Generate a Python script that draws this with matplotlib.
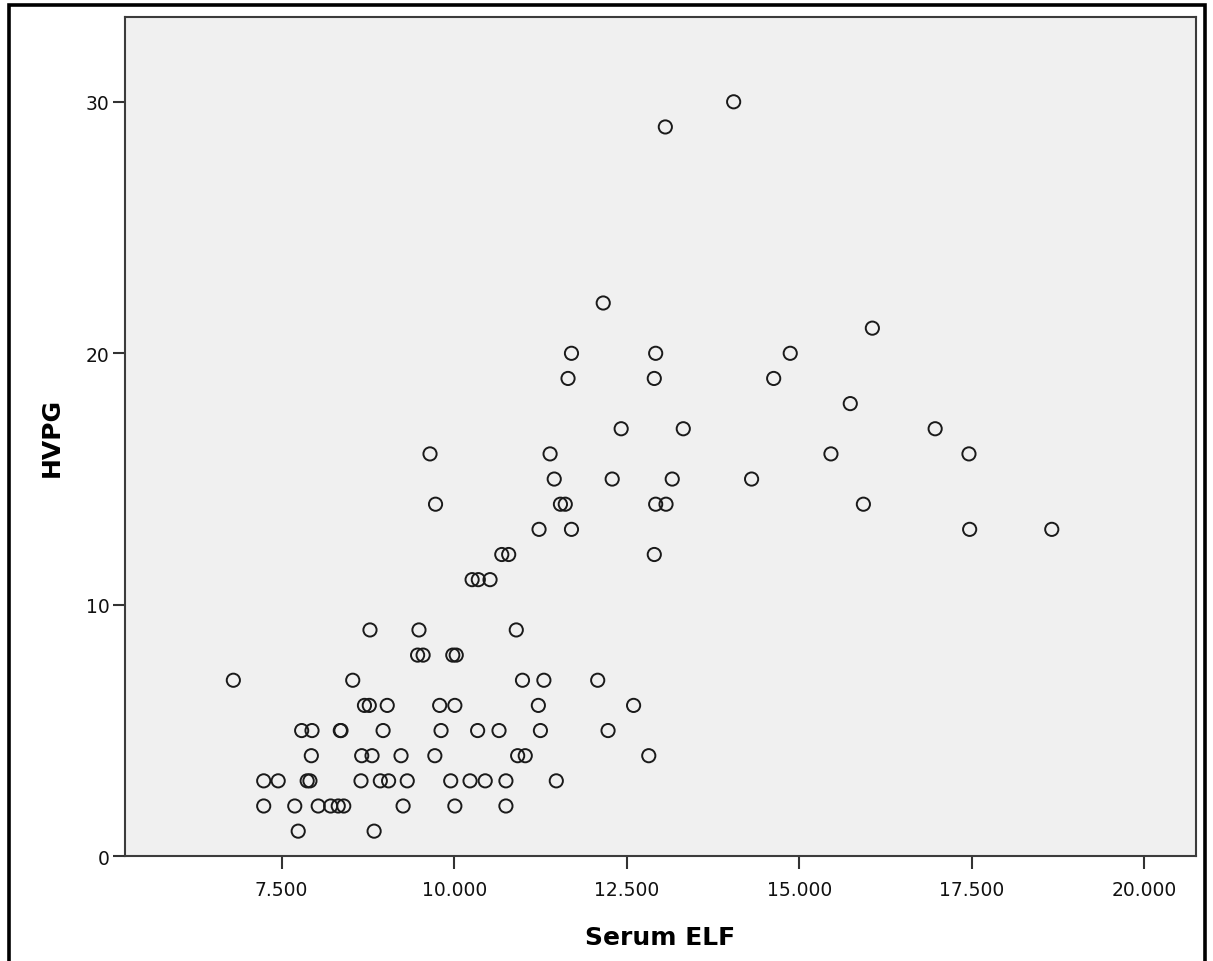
import matplotlib
matplotlib.use("Agg")
import matplotlib.pyplot as plt
from matplotlib.patches import Rectangle

# Serum ELF score vs HVPG (mmHg), one entry per patient
elf = [14.05, 13.06, 12.16, 16.06,
       11.70, 12.92, 14.87,
       11.65, 12.90, 14.63,
       15.74,
       12.42, 13.32, 16.97,
       9.65, 11.39, 15.46, 17.46,
       11.45, 12.29, 13.16, 14.31,
       9.73, 11.54, 11.61, 12.92, 13.07, 15.93,
       11.23, 11.70, 17.47, 18.66,
       10.69, 10.79, 12.90,
       10.26, 10.35, 10.52,
       8.78, 9.49, 10.90,
       9.47, 9.55, 9.98, 10.03,
       6.80, 8.53, 10.99, 11.30, 12.08,
       8.70, 8.77, 9.03, 9.79, 10.01, 11.22, 12.60,
       7.79, 7.94, 8.35, 8.36, 8.97, 9.81, 10.34, 10.65, 11.25, 12.23,
       7.93, 8.66, 8.81, 9.23, 9.72, 10.92, 11.03, 12.82,
       7.24, 7.45, 7.87, 7.91, 8.65, 8.93, 9.05, 9.32, 9.95, 10.23, 10.45, 10.75, 11.48,
       7.24, 7.69, 8.03, 8.21, 8.32, 8.40, 9.26, 10.01, 10.75,
       7.74, 8.84]
hvpg = [30, 29, 22, 21,
        20, 20, 20,
        19, 19, 19,
        18,
        17, 17, 17,
        16, 16, 16, 16,
        15, 15, 15, 15,
        14, 14, 14, 14, 14, 14,
        13, 13, 13, 13,
        12, 12, 12,
        11, 11, 11,
        9, 9, 9,
        8, 8, 8, 8,
        7, 7, 7, 7, 7,
        6, 6, 6, 6, 6, 6, 6,
        5, 5, 5, 5, 5, 5, 5, 5, 5, 5,
        4, 4, 4, 4, 4, 4, 4, 4,
        3, 3, 3, 3, 3, 3, 3, 3, 3, 3, 3, 3, 3,
        2, 2, 2, 2, 2, 2, 2, 2, 2,
        1, 1]

xticks = [7.5, 10.0, 12.5, 15.0, 17.5, 20.0]
xticklabels = ["7.500", "10.000", "12.500", "15.000", "17.500", "20.000"]
yticks = [0, 10, 20, 30]

W, H = 1213, 962
fig = plt.figure(figsize=(W / 100, H / 100), dpi=100)
ax = fig.add_axes([125 / W, 1 - 857.3 / H, (1196 - 125) / W, (857.3 - 18.3) / H])
ax.set_facecolor("#f0f0f0")

ax.scatter(elf, hvpg, s=9.5 ** 2, facecolors="none", edgecolors="#1a1a1a",
           linewidths=1.4, zorder=3, clip_on=False)

ax.set_xlim(5.23, 20.75)
ax.set_ylim(0, 33.36)
ax.set_xticks(xticks)
ax.set_xticklabels(xticklabels)
ax.set_yticks(yticks)
ax.tick_params(direction="out", length=9, width=1.5, color="#333333",
               labelsize=13.5, labelcolor="#111111")
ax.tick_params(axis="x", pad=8)
ax.tick_params(axis="y", pad=2)

for sp in ax.spines.values():
    sp.set_color("#3c3c3c")
    sp.set_linewidth(1.5)

ax.set_xlabel("Serum ELF", fontsize=18, fontweight="bold", labelpad=19)
ax.set_ylabel("HVPG", fontsize=18, fontweight="bold", labelpad=16)

# black border round the chart, open at the bottom
fig.add_artist(Rectangle((8.5 / W, -0.05), (1205 - 8.5) / W, 1.05 - 5.5 / H,
                         transform=fig.transFigure, fill=False,
                         edgecolor="black", linewidth=2.6, clip_on=False))

fig.savefig("out.png", dpi=100)
